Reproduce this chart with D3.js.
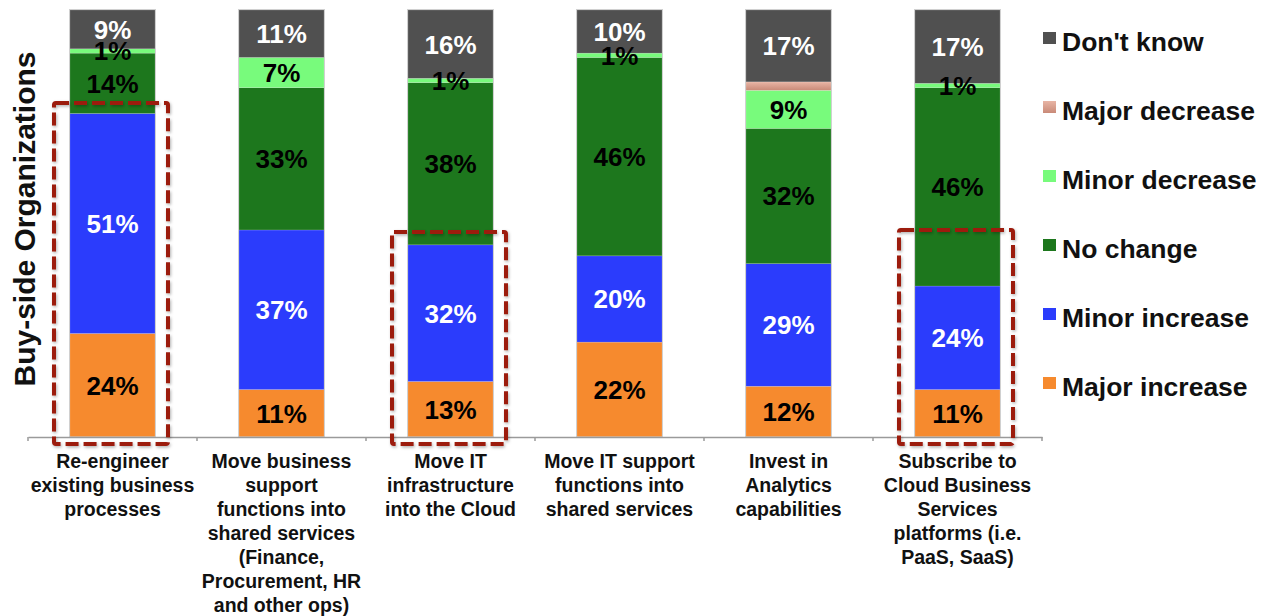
<!DOCTYPE html>
<html>
<head>
<meta charset="utf-8">
<script src="https://cdn.jsdelivr.net/npm/d3@7"></script>
<style>
  html, body { margin: 0; padding: 0; background: #fff; }
  svg { display: block; font-family: Arial, "Liberation Sans", Helvetica, sans-serif; }
</style>
</head>
<body>
<svg id="chart" width="1267" height="616"></svg>
<script>
// ---- data ----
const categories = [
  "Re-engineer\nexisting business\nprocesses",
  "Move business\nsupport\nfunctions into\nshared services\n(Finance,\nProcurement, HR\nand other ops)",
  "Move IT\ninfrastructure\ninto the Cloud",
  "Move IT support\nfunctions into\nshared services",
  "Invest in\nAnalytics\ncapabilities",
  "Subscribe to\nCloud Business\nServices\nplatforms (i.e.\nPaaS, SaaS)"
];
const seriesNames = ["Major increase", "Minor increase", "No change", "Minor decrease", "Major decrease", "Don't know"];
const majorIncrease = [24, 11, 13, 22, 12, 11];
const minorIncrease = [51, 37, 32, 20, 29, 24];
const noChange      = [14, 33, 38, 46, 32, 46];
const minorDecrease = [1, 7, 1, 1, 9, 1];
const majorDecrease = [0, 0, 0, 0, 2, 0];
const dontKnow      = [9, 11, 16, 10, 17, 17];
const yAxisTitle = "Buy-side Organizations";
// highlighted categories (dashed boxes) and the share level of each box top
const highlightIndex = [0, 2, 5];
const highlightTop = [78.2, 48, 48.5];

const seriesValues = [majorIncrease, minorIncrease, noChange, minorDecrease, majorDecrease, dontKnow];
const colors = ["#f68a2e", "#2b3cfc", "#1d771d", "#78fb7c", "#d9a292", "#505050"];
const labelColors = ["#000", "#fff", "#000", "#000", null, "#fff"];

const table = categories.map((c, i) => {
  const row = { cat: c };
  seriesNames.forEach((s, k) => row[s] = seriesValues[k][i]);
  return row;
});

const svg = d3.select("#chart");
svg.append("rect").attr("width", 1267).attr("height", 616).attr("fill", "#fff");

const defs = svg.append("defs");
const grad = defs.append("linearGradient").attr("id", "pinkGrad").attr("x1", 0).attr("x2", 0).attr("y1", 0).attr("y2", 1);
grad.append("stop").attr("offset", "0%").attr("stop-color", "#e8b5a5");
grad.append("stop").attr("offset", "100%").attr("stop-color", "#c98a78");
const sh = defs.append("filter").attr("id", "shadow").attr("x", "-10%").attr("y", "-10%").attr("width", "130%").attr("height", "130%");
sh.append("feDropShadow").attr("dx", 1).attr("dy", 1.5).attr("stdDeviation", 1.5).attr("flood-color", "#000").attr("flood-opacity", 0.3);

const x = d3.scaleBand().domain(categories).range([28, 1042]).paddingInner(0.497).paddingOuter(0.2485);
const y = d3.scaleLinear().domain([0, 1]).range([437, 10]);

const stack = d3.stack().keys(seriesNames).offset(d3.stackOffsetExpand);
const stacked = stack(table);

// bars
const layers = svg.append("g").selectAll("g").data(stacked).join("g")
  .attr("fill", (d, i) => i === 4 ? "url(#pinkGrad)" : colors[i]);
layers.selectAll("rect").data(d => d).join("rect")
  .attr("x", d => x(d.data.cat))
  .attr("width", x.bandwidth())
  .attr("y", d => y(d[1]))
  .attr("height", d => Math.max(0, y(d[0]) - y(d[1])))
  .attr("stroke", "rgba(255,255,255,0.25)")
  .attr("stroke-width", 0.6);

// bar outlines (light edge)
svg.append("g").selectAll("rect").data(categories).join("rect")
  .attr("x", c => x(c) - 0.5).attr("y", y(1) - 0.5)
  .attr("width", x.bandwidth() + 1).attr("height", y(0) - y(1) + 0.5)
  .attr("fill", "none").attr("stroke", "#d0d0d0").attr("stroke-width", 1);

// segment labels
const labelG = svg.append("g");
stacked.forEach((layer, k) => {
  if (!labelColors[k]) return;
  labelG.append("g").selectAll("text").data(layer).join("text")
    .attr("x", d => x(d.data.cat) + x.bandwidth() / 2)
    .attr("y", d => (y(d[0]) + y(d[1])) / 2)
    .attr("dy", "0.36em")
    .attr("text-anchor", "middle")
    .attr("font-size", 26)
    .attr("font-weight", "bold")
    .attr("fill", labelColors[k])
    .text(d => d.data[seriesNames[k]] > 0 ? d.data[seriesNames[k]] + "%" : "");
});

// x axis baseline
const axis = d3.axisBottom(x).tickSize(0).tickFormat("");
const axG = svg.append("g").attr("transform", `translate(0,${y(0)})`).call(axis);
axG.select(".domain").attr("stroke", "#9a9a9a").attr("stroke-width", 1.5);
const bounds = categories.map(c => x(c) - (x.step() - x.bandwidth()) / 2).concat([x(categories[categories.length - 1]) + x.bandwidth() + (x.step() - x.bandwidth()) / 2]);
axG.selectAll("line.bound").data(bounds).join("line").attr("class", "bound")
  .attr("x1", d => d).attr("x2", d => d).attr("y1", 0).attr("y2", 4)
  .attr("stroke", "#9a9a9a").attr("stroke-width", 1.5);

// category labels
const catG = svg.append("g");
categories.forEach(c => {
  const t = catG.append("text")
    .attr("x", x(c) + x.bandwidth() / 2)
    .attr("y", y(0) + 31)
    .attr("text-anchor", "middle")
    .attr("font-size", 19.5)
    .attr("font-weight", "bold")
    .attr("fill", "#111");
  c.split("\n").forEach((line, i) => {
    t.append("tspan").attr("x", x(c) + x.bandwidth() / 2).attr("dy", i === 0 ? 0 : 24).text(line);
  });
});

// highlight boxes
const hiG = svg.append("g").attr("filter", "url(#shadow)");
highlightIndex.forEach((ci, j) => {
  const c = categories[ci];
  const x0 = x(c) - 16, x1 = x(c) + x.bandwidth() + 13;
  const y0 = y(highlightTop[j] / 100), y1 = y(0) + 7;
  hiG.append("rect")
    .attr("x", x0).attr("y", y0).attr("width", x1 - x0).attr("height", y1 - y0)
    .attr("rx", 2)
    .attr("fill", "none")
    .attr("stroke", "#9c1a0d")
    .attr("stroke-width", 4)
    .attr("stroke-dasharray", "13,5");
});

// y title
svg.append("text")
  .attr("transform", `translate(35,219) rotate(-90)`)
  .attr("text-anchor", "middle")
  .attr("font-size", 30)
  .attr("font-weight", "bold")
  .attr("fill", "#111")
  .text(yAxisTitle);

// legend (top to bottom reversed order)
const legendOrder = seriesNames.map((s, i) => i).reverse();
const leg = svg.append("g").selectAll("g").data(legendOrder).join("g")
  .attr("transform", (d, i) => `translate(1043,${32 + i * 69})`);
leg.append("rect").attr("width", 13).attr("height", 12)
  .attr("fill", d => d === 4 ? "url(#pinkGrad)" : colors[d]);
leg.append("text").attr("x", 19).attr("y", 19)
  .attr("font-size", 26.5).attr("font-weight", "bold").attr("fill", "#111")
  .text(d => seriesNames[d]);
</script>
</body>
</html>
